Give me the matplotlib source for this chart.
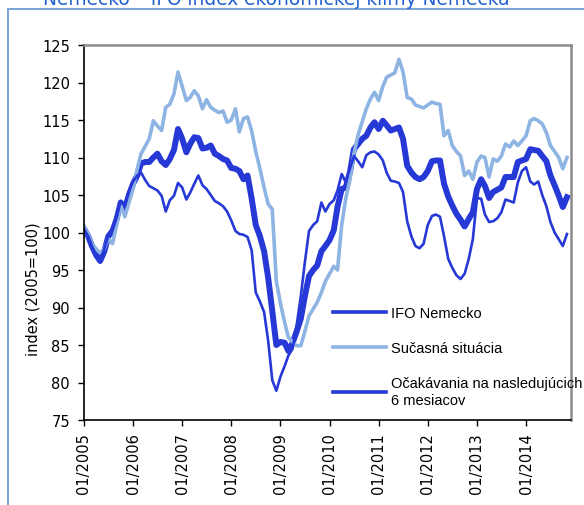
import matplotlib
matplotlib.use("Agg")
import matplotlib.pyplot as plt
from matplotlib.patches import Rectangle
import pandas as pd

# ---------------- data (monthly, 01/2005 - 11/2014) ----------------
ifo = [
    100.5, 99.5, 98.2, 97.0, 96.2, 97.5, 99.5, 100.2, 101.8, 104.0, 103.2, 105.0,
    106.5, 107.6, 109.2, 109.4, 109.4, 110.0, 110.5, 109.5, 109.0, 109.8, 111.0, 113.8,
    112.5, 110.7, 111.8, 112.7, 112.6, 111.2, 111.3, 111.6, 110.5, 110.2, 109.8, 109.6,
    108.6, 108.5, 108.2, 107.1, 107.6, 104.5, 101.0, 99.5, 97.5, 94.0, 89.5, 85.0,
    85.4, 85.3, 84.2, 85.3, 86.8, 88.5, 91.5, 94.2, 95.0, 95.6, 97.5, 98.2,
    99.0, 100.3, 103.4, 105.8, 106.0, 108.0, 111.1, 111.8, 112.5, 112.9, 114.0, 114.7,
    113.8, 114.9, 114.3, 113.6, 113.8, 114.0, 112.5, 108.9, 108.0, 107.4, 107.1, 107.4,
    108.2, 109.5, 109.6, 109.6, 106.5, 104.8, 103.6, 102.5, 101.7, 100.8, 101.8, 102.7,
    105.8, 107.1, 106.2, 104.6, 105.4, 105.7, 106.0, 107.4, 107.4, 107.4, 109.4, 109.6,
    109.8, 111.1, 111.0, 110.9, 110.2, 109.5, 107.6, 106.3, 104.9, 103.4, 104.7,
]
situation = [
    100.8, 99.8, 98.5, 97.8, 97.3, 97.8, 99.2, 98.5, 101.0, 103.6, 102.1, 104.0,
    105.8, 108.5, 110.5, 111.5, 112.5, 114.9, 114.2, 113.6, 116.7, 117.1, 118.5, 121.4,
    119.5, 117.6, 118.0, 118.9, 118.2, 116.5, 117.7, 116.7, 116.3, 116.0, 116.2, 114.7,
    115.0, 116.5, 113.4, 115.2, 115.4, 113.5, 110.8, 108.5, 106.0, 103.8, 103.1, 93.5,
    90.5, 88.0, 86.0, 85.4, 84.9, 84.9, 86.8, 88.9, 89.8, 90.7, 92.0, 93.5,
    94.5, 95.5, 95.0, 101.0, 104.5, 107.0, 110.5, 113.0, 114.8, 116.5, 117.8, 118.7,
    117.6, 119.5, 120.7, 121.0, 121.3, 123.1, 121.4, 118.0, 117.8, 117.0, 116.8, 116.6,
    117.0, 117.4, 117.2, 117.1, 112.9, 113.6, 111.6, 110.8, 110.2, 107.6, 108.2, 107.1,
    109.4, 110.2, 110.0, 107.4, 109.8, 109.5, 110.2, 111.8, 111.4, 112.2, 111.6, 112.2,
    112.9, 114.9, 115.2, 114.9, 114.5, 113.3, 111.6, 110.8, 110.0, 108.5, 110.0,
]
expectations = [
    100.5, 99.5, 98.2, 97.0, 96.4, 97.8, 99.6, 100.3, 102.0, 104.2, 103.5, 105.5,
    106.8, 107.6, 108.0, 107.0, 106.2, 105.9, 105.6, 104.9, 102.8, 104.3, 104.9, 106.6,
    106.0, 104.4, 105.3, 106.5, 107.6, 106.3, 105.8, 105.0, 104.2, 103.9, 103.5, 102.8,
    101.6, 100.2, 99.8, 99.7, 99.4, 97.6, 92.0, 90.8, 89.4, 85.6, 80.3, 78.9,
    80.8, 82.2, 83.6, 84.5, 87.6, 91.5, 96.0, 100.2, 101.0, 101.5, 104.0, 102.8,
    103.8, 104.3, 105.6, 107.8, 106.7, 108.5, 110.2, 109.5, 108.7, 110.3, 110.7, 110.8,
    110.4, 109.6, 108.0, 106.9, 106.8, 106.6, 105.4, 101.5, 99.5, 98.2, 97.9, 98.5,
    101.0, 102.2, 102.4, 102.1, 99.5, 96.5, 95.3, 94.3, 93.8, 94.5, 96.5, 99.1,
    104.6, 104.5, 102.4, 101.4, 101.5, 101.9, 102.7, 104.4, 104.2, 104.0, 106.7, 108.2,
    108.7, 106.8, 106.4, 106.8, 105.0, 103.5, 101.4, 100.0, 99.1, 98.2, 99.8,
]
series_labels = ["IFO Nemecko", "Sučasná situácia",
                 "Očakávania na nasledujúcich\n6 mesiacov"]
tick_years = list(range(2005, 2015))
tick_labels = [f"01/{y}" for y in tick_years]
yticks = [75, 80, 85, 90, 95, 100, 105, 110, 115, 120, 125]
title = "Nemecko – IFO index ekonomickej klímy Nemecka"
ylabel = "index (2005=100)"

dates = pd.date_range("2005-01-01", periods=len(ifo), freq="MS")

# ---------------- figure ----------------
W, H = 584, 506
fig = plt.figure(figsize=(W / 100, H / 100), dpi=100)
fig.patch.set_facecolor("white")

# outer light-blue frame
fig.patches.append(Rectangle((8 / W, -0.1), 1.2, (1 - 10 / H) + 0.1,
                             transform=fig.transFigure, fill=False,
                             ec="#7ea6d6", lw=1.5))
fig.text(43 / W, 1 - 5 / H, title, ha="left", va="baseline",
         fontsize=13.4, color="#1f5fcf", family="DejaVu Sans")

ax = fig.add_axes([84 / W, 1 - 421 / H, 487 / W, 375 / H])

dark = "#2638d6"
light = "#8db4e3"
ax.plot(dates, ifo, color=dark, lw=4.3, solid_joinstyle="round",
        label=series_labels[0])
ax.plot(dates, situation, color=light, lw=2.6, solid_joinstyle="round",
        label=series_labels[1])
ax.plot(dates, expectations, color=dark, lw=1.9, solid_joinstyle="round",
        label=series_labels[2])

ax.set_ylim(75, 125)
ax.set_xlim(pd.Timestamp("2005-01-01"), pd.Timestamp("2014-12-01"))
ax.set_yticks(yticks)
ax.set_xticks([pd.Timestamp(f"{y}-01-01") for y in tick_years])
ax.set_xticklabels(tick_labels, rotation=90)

for lab in ax.get_xticklabels() + ax.get_yticklabels():
    lab.set_family("DejaVu Sans")
ax.tick_params(axis="both", direction="out", length=4.3, width=1,
               labelsize=10.5, color="black")
ax.tick_params(axis="y", pad=5.8)
ax.tick_params(axis="x", pad=4.3)

ax.set_ylabel(ylabel, fontsize=10.5, family="DejaVu Sans")
ax.yaxis.set_label_coords(-0.089, 0.351)

for s in ["left", "bottom"]:
    ax.spines[s].set_color("black")
    ax.spines[s].set_linewidth(1.2)
for s in ["top", "right"]:
    ax.spines[s].set_color("#8a8a8a")
    ax.spines[s].set_linewidth(1.8)

leg = ax.legend(loc="upper left", bbox_to_anchor=(333 / W, 1 - 307 / H),
                bbox_transform=fig.transFigure, frameon=False,
                prop={"family": "Liberation Sans", "size": 10.5},
                handlelength=3.6, handletextpad=0.35, labelspacing=1.45,
                borderpad=0, borderaxespad=0)
for h in leg.get_lines():
    h.set_linewidth(2.6)
for t in leg.get_texts():
    t.set_linespacing(1.25)

fig.savefig("out.png", dpi=100, facecolor="white")
